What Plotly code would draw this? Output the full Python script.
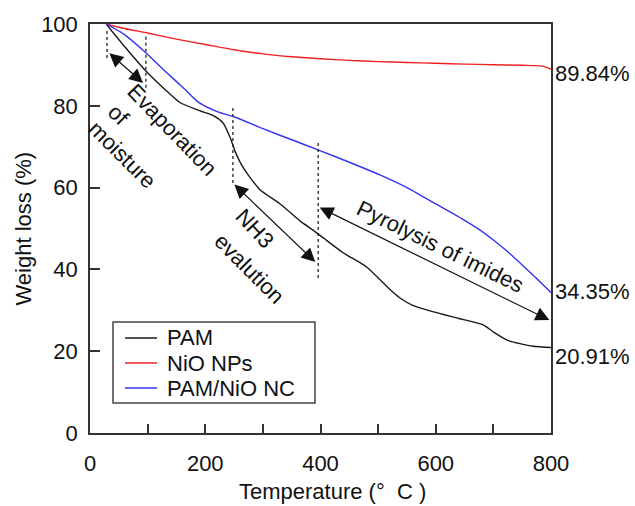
import plotly.graph_objects as go

# ---------------- data ----------------
pam_t = [28, 60, 97, 130, 156, 190, 214, 231, 243, 252, 262, 275, 295, 330, 365, 387, 405,
         440, 480, 521, 538, 560, 596, 640, 683, 700, 724, 769, 800]
pam_w = [100, 94.5, 88.5, 84.0, 80.8, 78.8, 77.6, 75.8, 72.3, 68.8, 65.8, 63.0, 59.5, 56.0,
         51.8, 49.6, 47.7, 44.0, 40.6, 35.0, 33.0, 31.2, 29.6, 28.0, 26.4, 24.7, 22.7, 21.2, 20.91]

nio_t = [28, 60, 100, 150, 200, 250, 300, 350, 400, 450, 500, 550, 600, 650, 700, 750, 785, 800]
nio_w = [100, 98.9, 97.8, 96.3, 95.0, 93.7, 92.7, 92.0, 91.5, 91.1, 90.8, 90.6, 90.4, 90.2,
         90.05, 89.9, 89.7, 89.0]

nc_t = [28, 60, 95, 130, 165, 188, 222, 252, 300, 350, 400, 450, 503, 550, 600, 650, 677,
        700, 725, 750, 775, 800]
nc_w = [100, 97.4, 93.2, 88.5, 84.0, 80.9, 78.5, 77.2, 74.4, 71.7, 69.0, 66.2, 63.1, 60.0,
        56.0, 52.0, 49.6, 47.2, 44.3, 41.1, 37.8, 34.35]

series_names = ["PAM", "NiO NPs", "PAM/NiO NC"]
series_colors = ["#1a1a1a", "#f02020", "#3434f0"]

end_labels = ["89.84%", "34.35%", "20.91%"]
end_label_y = [88.0, 34.5, 18.6]

x_ticks = [0, 100, 200, 300, 400, 500, 600, 700, 800]
x_ticktext = ["0", "", "200", "", "400", "", "600", "", "800"]
y_ticks = [0, 20, 40, 60, 80, 100]

# dotted guide lines: (temperature, y_from, y_to)
guide_x = [29.5, 97, 248, 396]
guide_y0 = [91.7, 84.4, 61.1, 37.9]
guide_y1 = [99.0, 97.0, 79.5, 71.1]

# double-headed arrows: start (x,y) -> end (x,y)
arrow_x0 = [31, 248, 396]
arrow_y0 = [93.2, 61.1, 55.3]
arrow_x1 = [92, 391, 797]
arrow_y1 = [85.6, 41.8, 27.6]

# rotated annotation texts
note_text = ["Evaporation", "of", "moisture", "NH3", "evalution", "Pyrolysis of imides"]
note_x = [142.3, 48.6, 55.5, 286.3, 275.9, 607.4]
note_y = [74.3, 77.8, 68.0, 50.1, 40.1, 45.5]
note_angle = [46, 45, 45, 47, 45, 26]

FONT = "Liberation Sans, Arial, Helvetica, sans-serif"
FS = 22

fig = go.Figure()
for t, w, name, col in zip([pam_t, nio_t, nc_t], [pam_w, nio_w, nc_w], series_names, series_colors):
    fig.add_trace(go.Scatter(x=t, y=w, mode="lines", name=name, showlegend=False,
                             line=dict(color=col, width=1.4, shape="spline", smoothing=0.6)))

for gx, g0, g1 in zip(guide_x, guide_y0, guide_y1):
    fig.add_shape(type="line", x0=gx, x1=gx, y0=g0, y1=g1, xref="x", yref="y",
                  line=dict(color="#222", width=1.3, dash="3px,3px"))

anns = []
for ax_, ay_, x_, y_ in zip(arrow_x0, arrow_y0, arrow_x1, arrow_y1):
    anns.append(dict(x=x_, y=y_, ax=ax_, ay=ay_, xref="x", yref="y", axref="x", ayref="y",
                     text="", showarrow=True, arrowhead=2, startarrowhead=2,
                     arrowside="end+start", arrowsize=2.3, startarrowsize=2.3,
                     arrowwidth=1.2, arrowcolor="#111", standoff=0, startstandoff=0))

for txt, nx, ny, ang in zip(note_text, note_x, note_y, note_angle):
    anns.append(dict(x=nx, y=ny, xref="x", yref="y", text=txt, showarrow=False,
                     textangle=ang, xanchor="center", yanchor="middle",
                     font=dict(family=FONT, size=FS, color="#111")))

for lab, ly in zip(end_labels, end_label_y):
    anns.append(dict(x=1, y=ly, xref="paper", yref="y", text=lab, showarrow=False,
                     xanchor="left", yanchor="middle", xshift=2,
                     font=dict(family=FONT, size=FS, color="#111")))

# axis titles
anns.append(dict(x=0.527, y=0, xref="paper", yref="paper", text="Temperature (°\u00a0\u00a0C )",
                 showarrow=False, xanchor="center", yanchor="middle", yshift=-58,
                 font=dict(family=FONT, size=FS, color="#111")))
anns.append(dict(x=0, y=0.5, xref="paper", yref="paper", text="Weight loss (%)",
                 showarrow=False, xanchor="center", yanchor="middle", xshift=-67,
                 textangle=-90, font=dict(family=FONT, size=FS, color="#111")))

# custom legend (box, line samples, labels) in paper coordinates
leg_box = dict(x0=0.0499, x1=0.488, y0=0.0733, y1=0.2714)
leg_line_x = (0.0759, 0.1453)
leg_text_x = 0.1627
leg_rows_y = [0.2323, 0.1711, 0.1100]
fig.add_shape(type="rect", xref="paper", yref="paper", fillcolor="white",
              line=dict(color="#444", width=1.5), layer="above", **leg_box)
for name, col, ry in zip(series_names, series_colors, leg_rows_y):
    fig.add_shape(type="line", xref="paper", yref="paper", x0=leg_line_x[0], x1=leg_line_x[1],
                  y0=ry, y1=ry, line=dict(color=col, width=1.4), layer="above")
    anns.append(dict(x=leg_text_x, y=ry, xref="paper", yref="paper", text=name, showarrow=False,
                     xanchor="left", yanchor="middle",
                     font=dict(family=FONT, size=FS, color="#111")))

axis_common = dict(showgrid=False, zeroline=False, showline=True, linecolor="#333",
                   linewidth=1.5, mirror=True, ticks="inside", tickcolor="#333",
                   tickwidth=1.5, tickfont=dict(family=FONT, size=FS, color="#111"))

fig.update_layout(
    width=635, height=506, autosize=False,
    margin=dict(l=90, r=84, t=24, b=73),
    paper_bgcolor="white", plot_bgcolor="white",
    font=dict(family=FONT, size=FS, color="#111"),
    xaxis=dict(range=[0, 800], tickvals=x_ticks, ticktext=x_ticktext, ticklen=9,
               ticklabelstandoff=10, **axis_common),
    yaxis=dict(range=[0, 100], tickvals=y_ticks, ticklen=10, ticklabelstandoff=6, **axis_common),
    annotations=anns,
    showlegend=False,
)

fig.write_html("out.html", config={"displayModeBar": False},
               post_script="document.body.style.margin='0px';")
